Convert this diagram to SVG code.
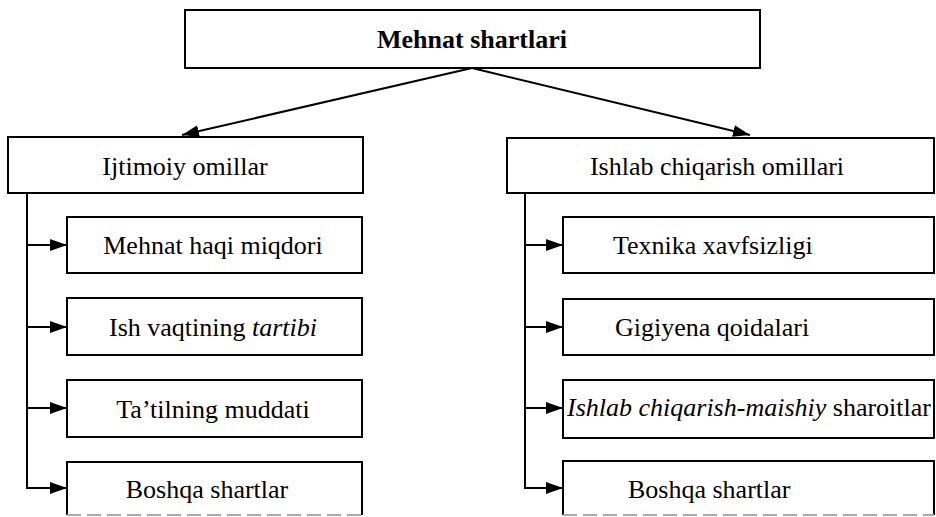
<svg xmlns="http://www.w3.org/2000/svg" width="936" height="517" viewBox="0 0 936 517">
<style>
.box{fill:#fff;stroke:#000;stroke-width:2}
.open{fill:none;stroke:#000;stroke-width:2}
.faint{fill:none;stroke:#aaa;stroke-width:2;stroke-dasharray:14 6}
.t{font-family:"Liberation Serif","Times New Roman",serif;font-size:26px;fill:#000}
.b{font-weight:bold}
.c{text-anchor:middle}
.i{font-style:italic}
.ln{fill:none;stroke:#000;stroke-width:2}
</style>
<defs>
<marker id="ah" markerUnits="userSpaceOnUse" markerWidth="18" markerHeight="14" refX="17" refY="6" orient="auto">
<path d="M0,0 L17,6 L0,12 z" fill="#000"/>
</marker>
</defs>
<rect width="936" height="517" fill="#fff"/>
<g id="connectors">
<line class="ln" x1="472" y1="68" x2="182" y2="135" marker-end="url(#ah)"/>
<line class="ln" x1="472" y1="68" x2="750" y2="135" marker-end="url(#ah)"/>
<polyline class="ln" points="27,193 27,488"/>
<line class="ln" x1="27" y1="245" x2="67" y2="245" marker-end="url(#ah)"/>
<line class="ln" x1="27" y1="327" x2="67" y2="327" marker-end="url(#ah)"/>
<line class="ln" x1="27" y1="408" x2="67" y2="408" marker-end="url(#ah)"/>
<line class="ln" x1="26" y1="488" x2="67" y2="488" marker-end="url(#ah)"/>
<polyline class="ln" points="525,193 525,488"/>
<line class="ln" x1="525" y1="245" x2="563" y2="245" marker-end="url(#ah)"/>
<line class="ln" x1="525" y1="327" x2="563" y2="327" marker-end="url(#ah)"/>
<line class="ln" x1="525" y1="408" x2="563" y2="408" marker-end="url(#ah)"/>
<line class="ln" x1="524" y1="488" x2="563" y2="488" marker-end="url(#ah)"/>
</g>
<g id="root">
<rect class="box" x="185" y="10" width="575" height="58"/>
<text class="t b c" x="472" y="48">Mehnat shartlari</text>
</g>
<g id="left">
<rect class="box" x="8" y="137" width="355" height="56"/>
<text class="t c" x="185" y="175">Ijtimoiy omillar</text>
</g>
<g id="right">
<rect class="box" x="507" y="138" width="427" height="55"/>
<text class="t c" x="717" y="175">Ishlab chiqarish omillari</text>
</g>
<g id="l1">
<rect class="box" x="67" y="217" width="295" height="56"/>
<text class="t c" x="213" y="254">Mehnat haqi miqdori</text>
</g>
<g id="l2">
<rect class="box" x="67" y="298" width="295" height="57"/>
<text class="t c" x="213" y="336">Ish vaqtining <tspan class="i">tartibi</tspan></text>
</g>
<g id="l3">
<rect class="box" x="67" y="380" width="295" height="57"/>
<text class="t c" x="213" y="418">Ta’tilning muddati</text>
</g>
<g id="l4">
<path class="open" d="M67,515 V462 H362 V515"/>
<line class="faint" x1="67" y1="515" x2="362" y2="515"/>
<text class="t c" x="207" y="498">Boshqa shartlar</text>
</g>
<g id="r1">
<rect class="box" x="563" y="217" width="371" height="56"/>
<text class="t" x="613" y="254">Texnika xavfsizligi</text>
</g>
<g id="r2">
<rect class="box" x="563" y="299" width="371" height="56"/>
<text class="t" x="615" y="336">Gigiyena qoidalari</text>
</g>
<g id="r3">
<rect class="box" x="563" y="380" width="371" height="58"/>
<text class="t" x="567" y="416"><tspan class="i">Ishlab chiqarish-maishiy</tspan> sharoitlar</text>
</g>
<g id="r4">
<path class="open" d="M563,515 V461 H934 V515"/>
<line class="faint" x1="563" y1="515" x2="934" y2="515"/>
<text class="t" x="628" y="498">Boshqa shartlar</text>
</g>
</svg>
